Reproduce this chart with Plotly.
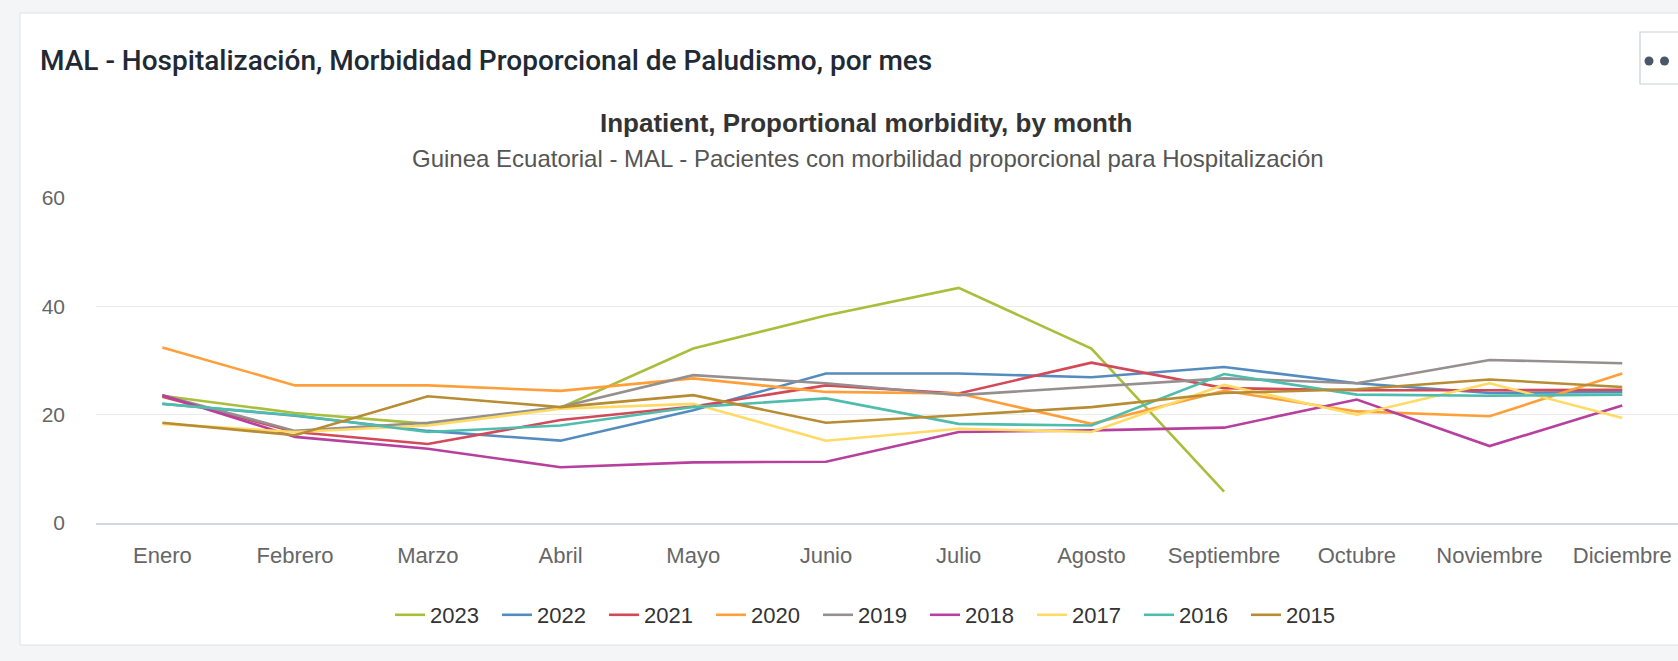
import plotly.graph_objects as go

months = ["Enero", "Febrero", "Marzo", "Abril", "Mayo", "Junio", "Julio",
          "Agosto", "Septiembre", "Octubre", "Noviembre", "Diciembre"]

v2023 = [23.5, 20.3, 18.3, 21.3, 32.2, 38.3, 43.4, 32.2, 5.8, None, None, None]
v2022 = [22.0, 19.8, 17.0, 15.2, 20.8, 27.6, 27.6, 26.9, 28.8, 25.8, 24.0, 24.2]
v2021 = [23.3, 16.8, 14.6, 19.0, 21.5, 25.4, 23.9, 29.6, 24.9, 24.5, 24.5, 24.6]
v2020 = [32.4, 25.4, 25.4, 24.4, 26.7, 24.2, 23.9, 18.3, 24.4, 20.6, 19.7, 27.6]
v2019 = [23.6, 17.0, 18.5, 21.4, 27.3, 25.8, 23.6, 25.1, 26.7, 25.8, 30.1, 29.5]
v2018 = [23.6, 15.9, 13.7, 10.3, 11.2, 11.3, 16.8, 17.1, 17.6, 22.8, 14.2, 21.7]
v2017 = [18.3, 16.8, 18.0, 21.1, 22.0, 15.2, 17.4, 16.8, 25.5, 20.0, 25.8, 19.4]
v2016 = [22.0, 19.9, 16.8, 18.0, 21.4, 23.0, 18.3, 18.0, 27.5, 23.7, 23.5, 23.7]
v2015 = [18.5, 16.2, 23.4, 21.4, 23.6, 18.5, 19.9, 21.4, 24.0, 24.7, 26.5, 25.1]

series_names = ["2023", "2022", "2021", "2020", "2019", "2018", "2017", "2016", "2015"]
series_values = [v2023, v2022, v2021, v2020, v2019, v2018, v2017, v2016, v2015]
colors = ["#a9be3b", "#558cc0", "#d34957", "#ff9f3a", "#968f8f",
          "#b7409f", "#ffda64", "#4fbdae", "#b78c33"]

y_ticks = [0, 20, 40, 60]

W, H = 1678, 661
ML, MR, MT, MB = 96, 0, 198, 138
PW = W - ML - MR
PH = H - MT - MB


def px(x):
    return (x - ML) / PW


def py(y):
    return (H - MB - y) / PH


fig = go.Figure()
for name, vals, col in zip(series_names, series_values, colors):
    fig.add_trace(go.Scatter(
        x=months, y=vals, name=name, mode="lines",
        line=dict(color=col, width=2.6),
        connectgaps=False,
    ))

shapes = [
    # card
    dict(type="rect", xref="paper", yref="paper",
         x0=px(20), x1=px(1720), y0=py(645), y1=py(13),
         fillcolor="white", line=dict(color="#dde2e7", width=1), layer="below"),
    # menu button
    dict(type="rect", xref="paper", yref="paper",
         x0=px(1640), x1=px(1720), y0=py(84), y1=py(32),
         fillcolor="white", line=dict(color="#c9d0d6", width=1.2), layer="above"),
    dict(type="circle", xref="paper", yref="paper",
         x0=px(1644.5), x1=px(1653.5), y0=py(65.5), y1=py(56.5),
         fillcolor="#4a5768", line=dict(width=0), layer="above"),
    dict(type="circle", xref="paper", yref="paper",
         x0=px(1660), x1=px(1669), y0=py(65.5), y1=py(56.5),
         fillcolor="#4a5768", line=dict(width=0), layer="above"),
]

annotations = [
    dict(text="MAL - Hospitalización, Morbididad Proporcional de Paludismo, por mes",
         xref="paper", yref="paper", x=px(38), y=py(61),
         xanchor="left", yanchor="middle", showarrow=False,
         font=dict(family="Roboto", size=28, weight=500, color="#212934")),
    dict(text="<b>Inpatient, Proportional morbidity, by month</b>",
         xref="paper", yref="paper", x=px(866), y=py(123),
         xanchor="center", yanchor="middle", showarrow=False,
         font=dict(family="Liberation Sans", size=26, color="#333333")),
    dict(text="Guinea Ecuatorial - MAL - Pacientes con morbilidad proporcional para Hospitalización",
         xref="paper", yref="paper", x=px(868), y=py(159),
         xanchor="center", yanchor="middle", showarrow=False,
         font=dict(family="Liberation Sans", size=24, color="#555555")),
]

fig.update_layout(
    width=W, height=H,
    margin=dict(l=ML, r=MR, t=MT, b=MB, pad=0),
    paper_bgcolor="#f3f5f7",
    plot_bgcolor="rgba(0,0,0,0)",
    shapes=shapes,
    annotations=annotations,
    showlegend=True,
    legend=dict(orientation="h", x=px(390), y=py(615), xanchor="left", yanchor="middle",
                font=dict(family="Liberation Sans", size=22, color="#333333"),
                entrywidth=62, entrywidthmode="pixels",
                bgcolor="rgba(0,0,0,0)", itemclick=False),
    xaxis=dict(type="category", categoryorder="array", categoryarray=months,
               range=[-0.5, 11.42], showgrid=False, zeroline=False,
               showline=True, linecolor="#d0d7e0", linewidth=1.5,
               ticks="", tickfont=dict(family="Liberation Sans", size=22, color="#666666"),
               ticklabelstandoff=12, fixedrange=True),
    yaxis=dict(range=[0, 60], tickvals=y_ticks, ticktext=[str(t) for t in y_ticks],
               showgrid=True, gridcolor="#ebebeb", gridwidth=1, zeroline=False,
               showline=False, ticks="",
               tickfont=dict(family="Liberation Sans", size=21, color="#666666"),
               ticklabelstandoff=30, fixedrange=True),
)

fig.write_html(
    "out.html",
    config={"displayModeBar": False},
    post_script="document.body.style.margin='0px';document.body.style.overflow='hidden';",
)
